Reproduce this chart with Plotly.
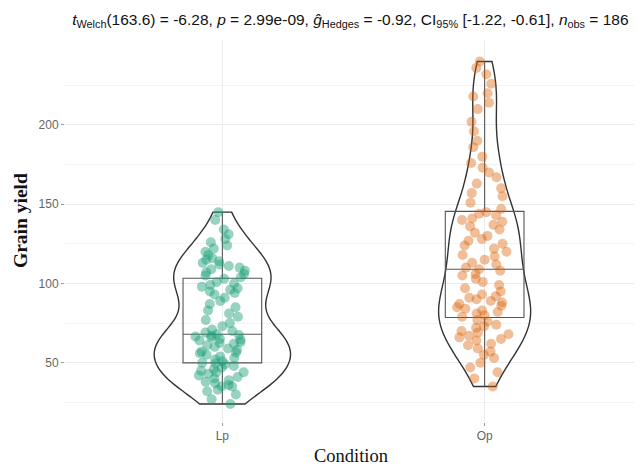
import plotly.graph_objects as go

categories = ["Lp", "Op"]

lp_values = [24, 27, 30, 32, 33, 35, 35, 36, 37, 38, 39, 40, 41, 42, 43, 44, 44, 45, 46, 47, 48, 49, 49.5,
             50, 51, 52, 53, 54, 55, 56, 56.5, 57, 58, 59, 60, 61, 62, 62.5, 63, 64, 64.5, 65, 66, 66.5, 67, 67.5,
             68,
             69, 70, 71, 73, 75, 77, 79, 81, 83, 85, 87, 89, 91, 93, 94, 95, 96, 97, 98, 99, 100, 101, 103,
             104, 105, 106, 107, 108, 109, 110, 111, 112, 113, 114, 115, 116, 118, 120, 122, 124, 126, 128, 131, 134, 140, 145]

op_values = [35, 40, 44, 47, 50, 53, 55, 57, 59, 61, 62, 64, 65, 66, 67, 68, 69, 70, 72, 73, 74, 76, 77,
             79, 80, 81, 82, 83, 84, 85, 86, 87, 88, 89, 90, 91, 92, 93, 95, 97, 99, 101, 103, 105, 106, 108,
             109,
             110, 112, 113, 115, 117, 118, 120, 122, 124, 125, 127, 128, 130, 132, 134, 136, 137, 139, 140, 141, 143, 144, 145,
             147, 151, 155, 157, 160, 163, 167, 170, 173, 176, 180, 186, 190, 196, 202, 210, 214, 218, 220, 226, 232, 236, 240]

y_ticks = [50, 100, 150, 200]

series = {"Lp": lp_values, "Op": op_values}
point_colors = {"Lp": "rgba(27,158,119,0.45)", "Op": "rgba(217,95,2,0.40)"}
violin_widths = {"Lp": 0.52, "Op": 0.35}
bandwidths = {"Lp": 12.0, "Op": 15.0}

fig = go.Figure()
for cat in categories:
    vals = series[cat]
    fig.add_trace(go.Violin(
        x=[cat] * len(vals), y=vals, name=cat,
        points=False, spanmode="hard", bandwidth=bandwidths[cat],
        width=violin_widths[cat], fillcolor="rgba(0,0,0,0)",
        line=dict(color="#333333", width=1.4), box_visible=False,
        meanline_visible=False, showlegend=False, hoverinfo="skip",
    ))
    fig.add_trace(go.Box(
        x=[cat] * len(vals), y=vals, name=cat,
        boxpoints="all", jitter=0.75, pointpos=0, width=0.3,
        fillcolor="rgba(0,0,0,0)", line=dict(color="#555555", width=1.1),
        marker=dict(color=point_colors[cat], size=10, line=dict(width=0)),
        whiskerwidth=0, showlegend=False,
    ))

title_text = ("<i>t</i><sub>Welch</sub>(163.6) = -6.28, <i>p</i> = 2.99e-09, "
              "<i>ĝ</i><sub>Hedges</sub> = -0.92, CI<sub>95%</sub> [-1.22, -0.61], "
              "<i>n</i><sub>obs</sub> = 186")

serif = "Liberation Serif, Times New Roman"

# The page body has an 8px default margin, so the figure is sized to fit the 642x467 window.
fig.update_layout(
    width=634, height=459,
    margin=dict(l=57, r=0, t=32, b=45),
    plot_bgcolor="white", paper_bgcolor="white",
    boxmode="overlay", violinmode="overlay",
    title=dict(text=title_text, x=0.54, xanchor="center", y=0.975, yanchor="middle",
               font=dict(family="Liberation Sans, Arial", size=15.5, color="#111111")),
    xaxis=dict(
        type="category", categoryorder="array", categoryarray=categories,
        range=[-0.6, 1.6], showgrid=True, gridcolor="#EBEBEB", gridwidth=1,
        ticks="outside", ticklen=3, tickcolor="#999999",
        tickfont=dict(family="Liberation Sans, Arial", size=12, color="#666666"),
        zeroline=False, showline=False, automargin=False,
    ),
    yaxis=dict(
        range=[12.6, 253.6], tickvals=y_ticks, showgrid=True, gridcolor="#EBEBEB", gridwidth=1,
        minor=dict(tickvals=[25, 75, 125, 175, 225], showgrid=True, gridcolor="#F3F3F3", gridwidth=1),
        ticks="outside", ticklen=3, tickcolor="#999999",
        tickfont=dict(family="Liberation Sans, Arial", size=12, color="#666666"),
        zeroline=False, showline=False, automargin=False,
    ),
    annotations=[
        dict(text="Condition", xref="paper", yref="paper", x=0.4965, y=0, yshift=-34,
             xanchor="center", yanchor="middle", showarrow=False,
             font=dict(family=serif, size=18.5, color="#111111")),
        dict(text="<b>Grain yield</b>", xref="paper", yref="paper", x=0, xshift=-45, y=0.5, yshift=10,
             xanchor="center", yanchor="middle", textangle=-90, showarrow=False,
             font=dict(family=serif, size=19.5, color="#111111")),
    ],
)

fig.write_html("out.html")
